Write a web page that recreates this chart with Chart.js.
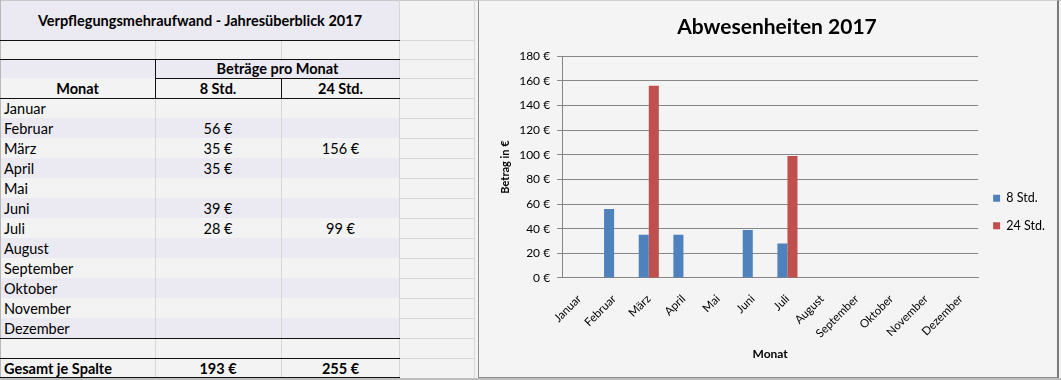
<!DOCTYPE html>
<html>
<head>
<meta charset="utf-8">
<script src="https://cdn.jsdelivr.net/npm/chart.js@4.4.1/dist/chart.umd.min.js"></script>
<style>
  body { margin: 0; width: 1061px; height: 380px; overflow: hidden; position: relative;
         background: #f3f3f3; font-family: Lato, "Noto Sans", sans-serif; color: #000; }
  .c { position: absolute; box-sizing: border-box; white-space: nowrap; font-size: 14.5px; line-height: 20px; }
  .ln { position: absolute; }
  #chartBox { position: absolute; left: 478px; top: 0; width: 581px; height: 378px; box-sizing: border-box;
              border: 1px solid #8e8e8e; border-top-color: #d0d0d0; border-right: 2px solid #7a7a7a; background: #f4f4f4; }
  #chart { position: absolute; left: 0; top: 0; }
</style>
</head>
<body>
<div id="sheet"></div>
<div id="chartBox"><canvas id="chart" width="578" height="376"></canvas></div>
<script>
const months = ["Januar", "Februar", "März", "April", "Mai", "Juni", "Juli",
  "August", "September", "Oktober", "November", "Dezember"];
const seriesNames = ["8 Std.", "24 Std."];
const values8 = [null, 56, 35, 35, null, 39, 28, null, null, null, null, null];
const values24 = [null, null, 156, null, null, null, 99, null, null, null, null, null];
const totals = [193, 255];
const yMax = 180;
const yStep = 20;

const FONT = 'Lato, "Noto Sans", sans-serif';
const sheet = document.getElementById("sheet");

function euro(v) { return v + " €"; }

function cell(x, y, w, h, text, opts = {}) {
  const d = document.createElement("div");
  d.className = "c";
  d.style.left = x + "px"; d.style.top = y + "px";
  d.style.width = w + "px"; d.style.height = h + "px";
  d.style.lineHeight = h + "px";
  if (opts.bg) d.style.background = opts.bg;
  if (opts.bold) d.style.fontWeight = "bold";
  if (opts.size) d.style.fontSize = opts.size + "px";
  d.style.textAlign = opts.align || "left";
  if (!opts.align) d.style.paddingLeft = "4px";
  if (text != null) d.textContent = text;
  sheet.appendChild(d);
}
function line(x, y, w, h, color) {
  const d = document.createElement("div");
  d.className = "ln";
  d.style.left = x + "px"; d.style.top = y + "px";
  d.style.width = w + "px"; d.style.height = h + "px";
  d.style.background = color;
  sheet.appendChild(d);
}

const LAV = "#ebeaf2", LIGHT = "#f3f3f3", GRID = "#d6d6d6", BLACK = "#111";

// title + header rows
cell(0, 1, 400, 39, "Verpflegungsmehraufwand - Jahresüberblick 2017", { bg: LAV, bold: true, align: "center", size: 14.5 });
cell(0, 40, 400, 19, null, { bg: LIGHT });
cell(0, 59, 400, 19, null, { bg: LAV });
cell(155, 59, 245, 19, "Beträge pro Monat", { bold: true, align: "center" });
cell(0, 78, 400, 20, null, { bg: LIGHT });
cell(0, 79, 155, 20, "Monat", { bold: true, align: "center" });
cell(155, 79, 126, 20, seriesNames[0], { bold: true, align: "center" });
cell(281, 79, 119, 20, seriesNames[1], { bold: true, align: "center" });

// month rows
months.forEach((m, i) => {
  const y = 98 + i * 20;
  cell(0, y, 400, 20, null, { bg: i % 2 ? LAV : LIGHT });
  cell(0, y + 1, 155, 20, m);
  if (values8[i] != null) cell(155, y + 1, 126, 20, euro(values8[i]), { align: "center" });
  if (values24[i] != null) cell(281, y + 1, 119, 20, euro(values24[i]), { align: "center" });
});
cell(0, 338, 400, 20, null, { bg: LIGHT });
cell(0, 358, 400, 20, null, { bg: LIGHT });
cell(0, 359, 155, 20, "Gesamt je Spalte", { bold: true });
cell(155, 359, 126, 20, euro(totals[0]), { bold: true, align: "center" });
cell(281, 359, 119, 20, euro(totals[1]), { bold: true, align: "center" });

// grid lines of the sheet
line(0, 0, 1061, 1, "#c9c9c9");
line(0, 0, 1, 380, "#b8b8b8");
line(155, 40, 1, 19, GRID); line(281, 40, 1, 19, GRID);
line(155, 98, 1, 280, GRID); line(281, 98, 1, 280, GRID);
line(399, 0, 1, 380, GRID); line(474, 0, 1, 380, GRID);
for (let y = 40; y <= 378; y += (y < 98 ? (y === 78 ? 20 : 19) : 20)) line(400, y, 74, 1, GRID);
[40, 59, 98, 338, 358, 377].forEach(y => line(0, y, 400, 1, BLACK));
line(155, 78, 245, 1, BLACK);
line(155, 59, 1, 39, BLACK);
line(281, 78, 1, 20, BLACK);
line(0, 378, 1061, 2, "#bdbdbd");

// chart
new Chart(document.getElementById("chart"), {
  type: "bar",
  data: {
    labels: months,
    datasets: [
      { label: seriesNames[0], data: values8, backgroundColor: "#4f81bd",
        categoryPercentage: 0.58, barPercentage: 1.0 },
      { label: seriesNames[1], data: values24, backgroundColor: "#c0504d",
        categoryPercentage: 0.58, barPercentage: 1.0 },
    ],
  },
  options: {
    responsive: false,
    animation: false,
    devicePixelRatio: 1,
    layout: { padding: { left: 20, right: 2, top: 0, bottom: 12 } },
    plugins: {
      title: {
        display: true, text: "Abwesenheiten 2017", color: "#000",
        font: { family: FONT, size: 21, weight: "bold" },
        padding: { top: 14, bottom: 16 },
      },
      legend: {
        position: "right",
        // blank legend title only pushes the two entries down a little
        title: { display: true, text: " ", font: { size: 10 }, padding: { top: 0, bottom: 46 } },
        labels: { boxWidth: 7, boxHeight: 7, padding: 15, color: "#000",
                  font: { family: FONT, size: 12.5 } },
      },
      tooltip: { enabled: false },
    },
    scales: {
      x: {
        grid: { display: false },
        border: { color: "#868686" },
        ticks: { autoSkip: false, minRotation: 45, maxRotation: 45, padding: 6, color: "#000",
                 font: { family: FONT, size: 11.5 } },
        title: { display: true, text: "Monat", color: "#000",
                 font: { family: FONT, size: 12, weight: "bold" }, padding: { top: 0, bottom: 4 } },
      },
      y: {
        min: 0, max: yMax,
        ticks: { stepSize: yStep, padding: 7, color: "#000", callback: v => euro(v),
                 font: { family: FONT, size: 12 } },
        grid: { color: "#868686", tickLength: 5 },
        border: { color: "#868686" },
        title: { display: true, text: "Betrag in €", color: "#000", padding: 0,
                 font: { family: FONT, size: 11, weight: "bold" } },
      },
    },
  },
});
</script>
</body>
</html>
